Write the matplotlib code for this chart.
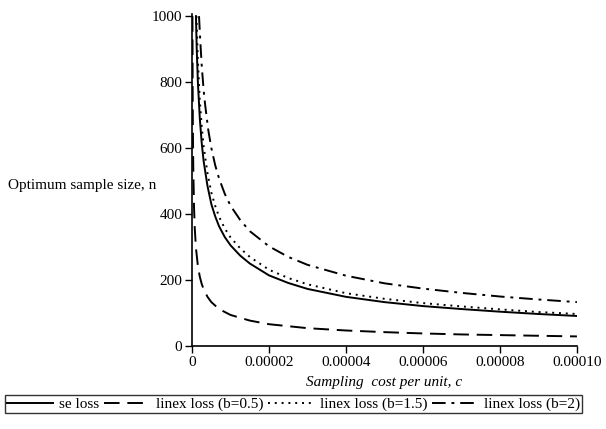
import matplotlib
matplotlib.use("Agg")
import matplotlib.pyplot as plt
import numpy as np

plt.rcParams['font.family'] = ['Liberation Serif', 'DejaVu Serif']

# values (c in units of 1e-5)
c_se = [0.1, 0.12, 0.15, 0.2, 0.25, 0.3, 0.4, 0.5, 0.6, 0.7, 0.85, 1.0, 1.25, 1.5, 2.0, 2.5, 3.0, 4.0, 5.0, 6.0, 7.0, 8.0, 9.0, 10.0]
n_se = [1000, 900, 800, 690, 615, 560, 485, 430, 393, 363, 330, 305, 274, 250, 214, 191, 173, 149, 133, 121, 112, 104, 97, 91]

c_b05 = [0.009, 0.015, 0.02, 0.03, 0.05, 0.07, 0.1, 0.15, 0.2, 0.25, 0.3, 0.4, 0.5, 0.7, 1.0, 1.5, 2.0, 3.0, 4.0, 5.0, 6.0, 7.0, 8.0, 9.0, 10.0]
n_b05 = [1000, 770, 665, 543, 420, 355, 297, 243, 210, 188, 172, 149, 133, 112, 94, 77, 66, 54, 47, 42, 38, 35, 33, 31, 29]

c_b15 = [0.112, 0.12, 0.15, 0.2, 0.25, 0.3, 0.4, 0.5, 0.6, 0.7, 0.85, 1.0, 1.25, 1.5, 2.0, 2.5, 3.0, 4.0, 5.0, 6.0, 7.0, 8.0, 9.0, 10.0]
n_b15 = [1000, 975, 865, 745, 665, 605, 524, 465, 425, 392, 356, 329, 296, 270, 231, 206, 187, 160, 143, 130, 120, 111, 103, 97]

c_b2 = [0.18, 0.21, 0.25, 0.3, 0.34, 0.42, 0.5, 0.6, 0.7, 0.85, 1.0, 1.25, 1.5, 2.0, 2.5, 3.0, 4.0, 5.0, 6.0, 7.0, 8.0, 9.0, 10.0]
n_b2 = [1000, 930, 850, 775, 730, 655, 600, 548, 508, 461, 425, 382, 348, 302, 270, 246, 213, 190, 174, 161, 150, 141, 133]

xticks = [0, 0.00002, 0.00004, 0.00006, 0.00008, 0.0001]
xtick_labels = ['0', '0.00002', '0.00004', '0.00006', '0.00008', '0.00010']
yticks = [0, 200, 400, 600, 800, 1000]

fig = plt.figure(figsize=(6.06, 4.29), dpi=100)
ax = fig.add_axes([0.317, 0.1935, 0.635, 0.7735])

lw = 1.4
ax.plot(np.array(c_se) * 1e-5, n_se, color='black', lw=lw, label='se loss')
ax.plot(np.array(c_b05) * 1e-5, n_b05, color='black', lw=lw, dashes=(8, 4), label='linex loss (b=0.5)')
ax.plot(np.array(c_b15) * 1e-5, n_b15, color='black', lw=lw, dashes=(1, 2.5), label='linex loss (b=1.5)')
ax.plot(np.array(c_b2) * 1e-5, n_b2, color='black', lw=lw, dashes=(7, 3, 1.5, 3), label='linex loss (b=2)')

ax.set_xlim(0, 0.0001)
ax.set_ylim(0, 1006)
ax.set_xticks(xticks)
ax.set_xticklabels(xtick_labels)
ax.set_yticks(yticks)
ax.tick_params(labelsize=11, length=5, width=1, direction='out', pad=2)
for s in ['top', 'right']:
    ax.spines[s].set_visible(False)
for s in ['left', 'bottom']:
    ax.spines[s].set_linewidth(1.2)

ax.set_xlabel('Sampling  cost per unit, c', fontsize=11, style='italic', labelpad=5)
fig.text(0.013, 1 - 186 / 429, 'Optimum sample size, n', fontsize=11, va='center', ha='left')

leg = fig.legend(loc='center', bbox_to_anchor=(0.484, 0.058), ncol=4, fontsize=11,
                 frameon=True, fancybox=False, edgecolor='black', handlelength=3.0,
                 columnspacing=0.3, handletextpad=0.4, borderpad=0.15, borderaxespad=0)
leg.get_frame().set_linewidth(1.0)

fig.savefig('out.png', dpi=100)
